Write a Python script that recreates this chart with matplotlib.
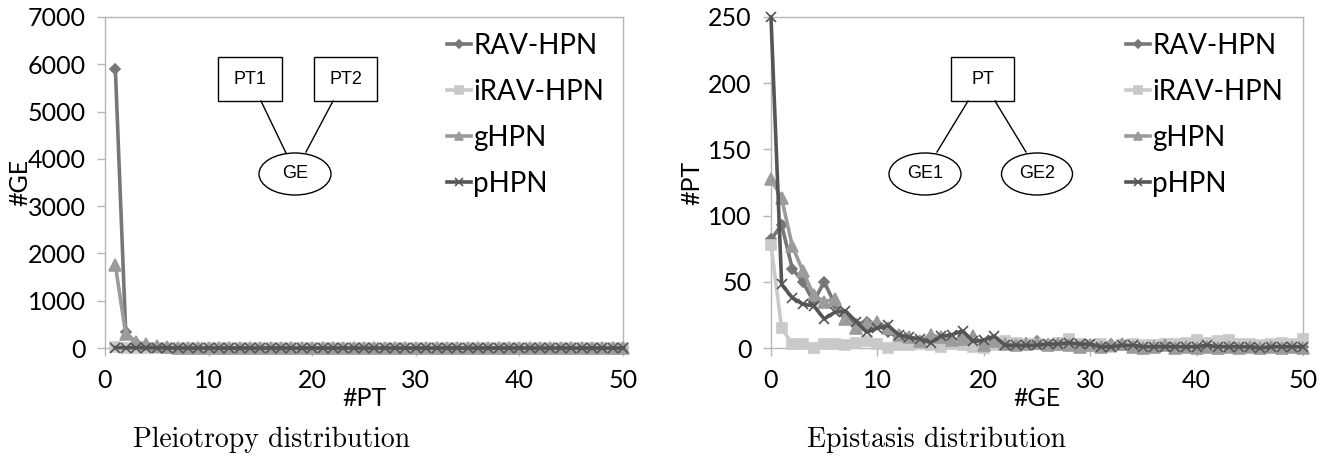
import matplotlib

matplotlib.use("Agg")

import matplotlib.pyplot as plt
from matplotlib.patches import Ellipse, Rectangle
from matplotlib.lines import Line2D

# ---- data -------------------------------------------------------------
series_names = ["RAV-HPN", "iRAV-HPN", "gHPN", "pHPN"]

pt_counts = list(range(1, 51))
rav_pleio = [5900, 330, 110, 50, 20, 10, 6, 4, 3, 2,
             2, 1, 1, 1, 1, 1, 0, 0, 0, 0,
             0, 0, 0, 0, 0, 0, 0, 0, 0, 0,
             0, 0, 0, 0, 0, 0, 0, 0, 0, 0,
             0, 0, 0, 0, 0, 0, 0, 0, 0, 0]
irav_pleio = [20, 10, 5, 3, 2, 1, 1, 0, 0, 0,
              0, 0, 0, 0, 0, 0, 0, 0, 0, 0,
              0, 0, 0, 0, 0, 0, 0, 0, 0, 0,
              0, 0, 0, 0, 0, 0, 0, 0, 0, 0,
              0, 0, 0, 0, 0, 0, 0, 0, 0, 0]
ghpn_pleio = [1750, 300, 130, 80, 40, 15, 8, 5, 3, 2,
              2, 1, 1, 1, 1, 0, 0, 0, 0, 0,
              0, 0, 0, 0, 0, 0, 0, 0, 0, 0,
              0, 0, 0, 0, 0, 0, 0, 0, 0, 0,
              0, 0, 0, 0, 0, 0, 0, 0, 0, 0]
phpn_pleio = [10, 5, 5, 10, 5, 2, 1, 1, 0, 0,
              0, 0, 0, 0, 0, 0, 0, 0, 0, 0,
              0, 0, 0, 0, 0, 0, 0, 0, 0, 0,
              0, 0, 0, 0, 0, 0, 0, 0, 0, 0,
              0, 0, 0, 0, 0, 0, 0, 0, 0, 0]

ge_counts = list(range(0, 51))
rav_epi = [82, 93, 60, 50, 35, 50, 33, 25, 18, 20,
           18, 12, 8, 7, 5, 8, 6, 5, 8, 6,
           3, 4, 2, 3, 4, 5, 3, 2, 4, 3,
           2, 2, 3, 2, 2, 1, 2, 2, 1, 1,
           2, 2, 1, 2, 1, 2, 1, 1, 2, 1, 1]
irav_epi = [78, 15, 3, 3, 0, 3, 3, 2, 4, 5,
            3, 0, 2, 2, 3, 2, 1, 3, 2, 1,
            0, 2, 5, 4, 3, 3, 2, 4, 7, 3,
            2, 3, 1, 2, 3, 2, 2, 3, 3, 4,
            6, 4, 5, 6, 3, 3, 2, 3, 4, 3, 7]
ghpn_epi = [128, 113, 77, 58, 40, 35, 37, 22, 15, 18,
            20, 15, 10, 8, 5, 10, 8, 6, 7, 9,
            2, 5, 3, 2, 3, 4, 2, 3, 2, 1,
            2, 1, 2, 3, 1, 0, 1, 2, 0, 1,
            0, 1, 0, 1, 0, 1, 0, 1, 0, 1, 0]
phpn_epi = [250, 48, 38, 33, 32, 22, 27, 28, 20, 12,
            15, 17, 10, 8, 7, 4, 9, 10, 13, 5,
            6, 9, 2, 2, 2, 2, 3, 3, 4, 3,
            3, 1, 1, 2, 2, 1, 1, 1, 1, 1,
            1, 2, 1, 1, 1, 1, 0, 1, 1, 1, 1]

x_ticks = [0, 10, 20, 30, 40, 50]
pleio_yticks = [0, 1000, 2000, 3000, 4000, 5000, 6000, 7000]
epi_yticks = [0, 50, 100, 150, 200, 250]

# ---- style ------------------------------------------------------------
COLORS = ["#777777", "#c9c9c9", "#9b9b9b", "#555555"]
MARKERS = [("D", 5), ("s", 7), ("^", 8), ("x", 7)]
FRAME = "#b5b5b5"
SANS = "Lato"
W, H = 1334, 468

fig = plt.figure(figsize=(W / 100, H / 100), dpi=100)


def px_axes(x0, y0, x1, y1):
    return fig.add_axes([x0 / W, 1 - y1 / H, (x1 - x0) / W, (y1 - y0) / H])


def style_axes(ax, yticks, xlabel, ylabel, ylab_x):
    for side in ("top", "right", "left", "bottom"):
        ax.spines[side].set_color(FRAME)
        ax.spines[side].set_linewidth(1.0)
    ax.set_xlim(0, 50)
    ax.set_xticks(x_ticks)
    ax.set_yticks(yticks)
    ax.set_ylim(yticks[0], yticks[-1])
    ax.tick_params(axis="both", colors=FRAME, length=6, width=1.0, direction="out",
                   labelcolor="black", labelsize=18)
    ax.tick_params(axis="y", pad=8)
    ax.tick_params(axis="x", pad=9)
    for lab in ax.get_xticklabels() + ax.get_yticklabels():
        lab.set_fontfamily(SANS)
    ax.set_xlabel(xlabel, fontsize=18, fontfamily=SANS)
    ax.set_ylabel(ylabel, fontsize=18, fontfamily=SANS)
    ax.xaxis.set_label_coords(0.5, -0.118)
    ax.yaxis.set_label_coords(ylab_x, 0.5)


def plot_series(ax, x, ys):
    handles = []
    for y, name, c, (m, ms) in zip(ys, series_names, COLORS, MARKERS):
        (h,) = ax.plot(x, y, color=c, linewidth=2.6, marker=m, markersize=ms,
                       markeredgewidth=1.2, markerfacecolor=c, markeredgecolor=c,
                       label=name, clip_on=False, zorder=3)
        handles.append(h)
    return handles


ax1 = px_axes(105, 17, 623, 348)
ax2 = px_axes(771, 17, 1303, 348)

h1 = plot_series(ax1, pt_counts, [rav_pleio, irav_pleio, ghpn_pleio, phpn_pleio])
h2 = plot_series(ax2, ge_counts, [rav_epi, irav_epi, ghpn_epi, phpn_epi])
style_axes(ax1, pleio_yticks, "#PT", "#GE", -0.143)
style_axes(ax2, epi_yticks, "#GE", "#PT", -0.128)

for ax, handles, xleft in ((ax1, h1, 447), (ax2, h2, 1126)):
    ax.legend(handles=handles, loc="upper left", frameon=False,
              bbox_to_anchor=(xleft / W, 1 - 33 / H), bbox_transform=fig.transFigure,
              prop={"family": SANS, "size": 20}, handlelength=0.85,
              handletextpad=0.1, labelspacing=0.72, borderpad=0, borderaxespad=0,
              markerscale=0.75)

# ---- small graph sketches, drawn in figure pixels ----------------------
over = fig.add_axes([0, 0, 1, 1], zorder=5)
over.set_xlim(0, W)
over.set_ylim(H, 0)
over.axis("off")
over.patch.set_alpha(0)


def box(x0, y0, x1, y1, text):
    over.add_patch(Rectangle((x0, y0), x1 - x0, y1 - y0, fill=True,
                             facecolor="white", edgecolor="black", linewidth=1.0))
    over.text((x0 + x1) / 2, (y0 + y1) / 2, text, ha="center", va="center",
              fontsize=13, fontfamily="Liberation Sans")


def oval(cx, cy, w, h, text):
    over.add_patch(Ellipse((cx, cy), w, h, facecolor="white", edgecolor="black",
                           linewidth=1.0))
    over.text(cx, cy, text, ha="center", va="center", fontsize=13,
              fontfamily="Liberation Sans")


def edge(x0, y0, x1, y1):
    over.add_line(Line2D([x0, x1], [y0, y1], color="black", linewidth=1.0))


edge(261, 101, 286, 153)
edge(333, 101, 306, 152)
box(218, 57, 282, 101, "PT1")
box(314, 57, 377, 101, "PT2")
oval(295, 174, 72, 42, "GE")

edge(968, 101, 937, 152)
edge(995, 101, 1026, 152)
box(951, 57, 1014, 101, "PT")
oval(925, 174, 72, 42, "GE1")
oval(1037, 174, 71, 42, "GE2")

# ---- captions ----------------------------------------------------------
fig.text(272 / W, 1 - 440 / H, "Pleiotropy distribution", ha="center", va="center",
         fontsize=20, fontfamily="cmr10")
fig.text(937 / W, 1 - 440 / H, "Epistasis distribution", ha="center", va="center",
         fontsize=20, fontfamily="cmr10")

fig.savefig("out.png", dpi=100)
